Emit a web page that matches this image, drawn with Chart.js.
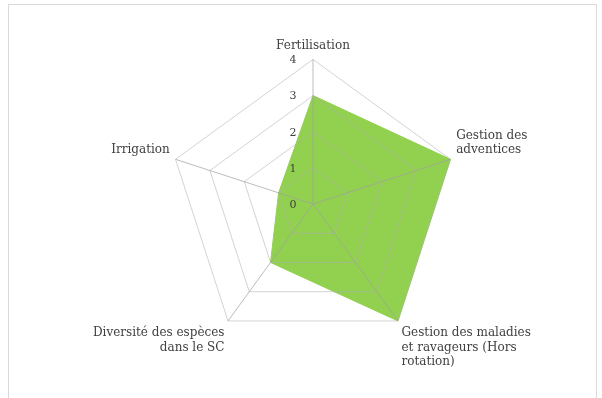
<!DOCTYPE html>
<html>
<head>
<meta charset="utf-8">
<script src="https://cdn.jsdelivr.net/npm/chart.js@4/dist/chart.umd.min.js"></script>
<style>
  html, body { margin: 0; padding: 0; background: #fff; }
  body { width: 602px; height: 398px; position: relative; overflow: hidden; }
  .frame { position: absolute; left: 8px; top: 4px; width: 589px; height: 410px; border: 1px solid #d9d9d9; box-sizing: border-box; }
  .chart-box { position: absolute; left: 0; top: 0; width: 602px; height: 398px; }
</style>
</head>
<body>
<div class="frame"></div>
<div class="chart-box"><canvas id="radar"></canvas></div>
<script>
// axes of the radar, clockwise from the top
const categories = [
    "Fertilisation",
    ["Gestion des", "adventices"],
    ["Gestion des maladies", "et ravageurs (Hors", "rotation)"],
    ["Diversité des espèces", "dans le SC"],
    "Irrigation"
]
const scores = [3, 4, 4, 2, 1]
const tickValues = [0, 1, 2, 3, 4]

const labelFont = {family: "'DejaVu Serif', 'Liberation Serif', serif", size: 12}

// tick numbers sit a little left of the vertical axis, "0" included
const TickNumbers = {
    id: "tickNumbers",
    afterDraw(chart) {
        const scale = chart.scales.r
        const ctx = chart.ctx
        ctx.save()
        ctx.font = "11px " + labelFont.family
        ctx.fillStyle = "#404040"
        ctx.textAlign = "center"
        ctx.textBaseline = "middle"
        tickValues.forEach(function(v){
            const pos = scale.getPointPositionForValue(0, v)
            ctx.fillText(String(v), pos.x - 20, pos.y + 1)
        })
        ctx.restore()
    }
}

new Chart(document.getElementById("radar"), {
    type: "radar",
    data: {
        labels: categories,
        datasets: [{
            data: scores,
            backgroundColor: "#92d050",
            borderColor: "#92d050",
            borderWidth: 1,
            pointRadius: 0,
            fill: true
        }]
    },
    options: {
        responsive: true,
        maintainAspectRatio: false,
        animation: false,
        layout: {padding: {top: 40, bottom: 28, left: 50, right: 26}},
        plugins: {legend: {display: false}, tooltip: {enabled: false}},
        scales: {
            r: {
                min: 0,
                max: 4,
                ticks: {stepSize: 1, display: false, z: 1},
                grid: {color: "rgba(175,175,175,0.55)", lineWidth: 1, z: 1},
                angleLines: {color: "rgba(160,160,160,0.7)", lineWidth: 1},
                pointLabels: {font: labelFont, color: "#404040", padding: 6}
            }
        }
    },
    plugins: [TickNumbers]
})
</script>
</body>
</html>
